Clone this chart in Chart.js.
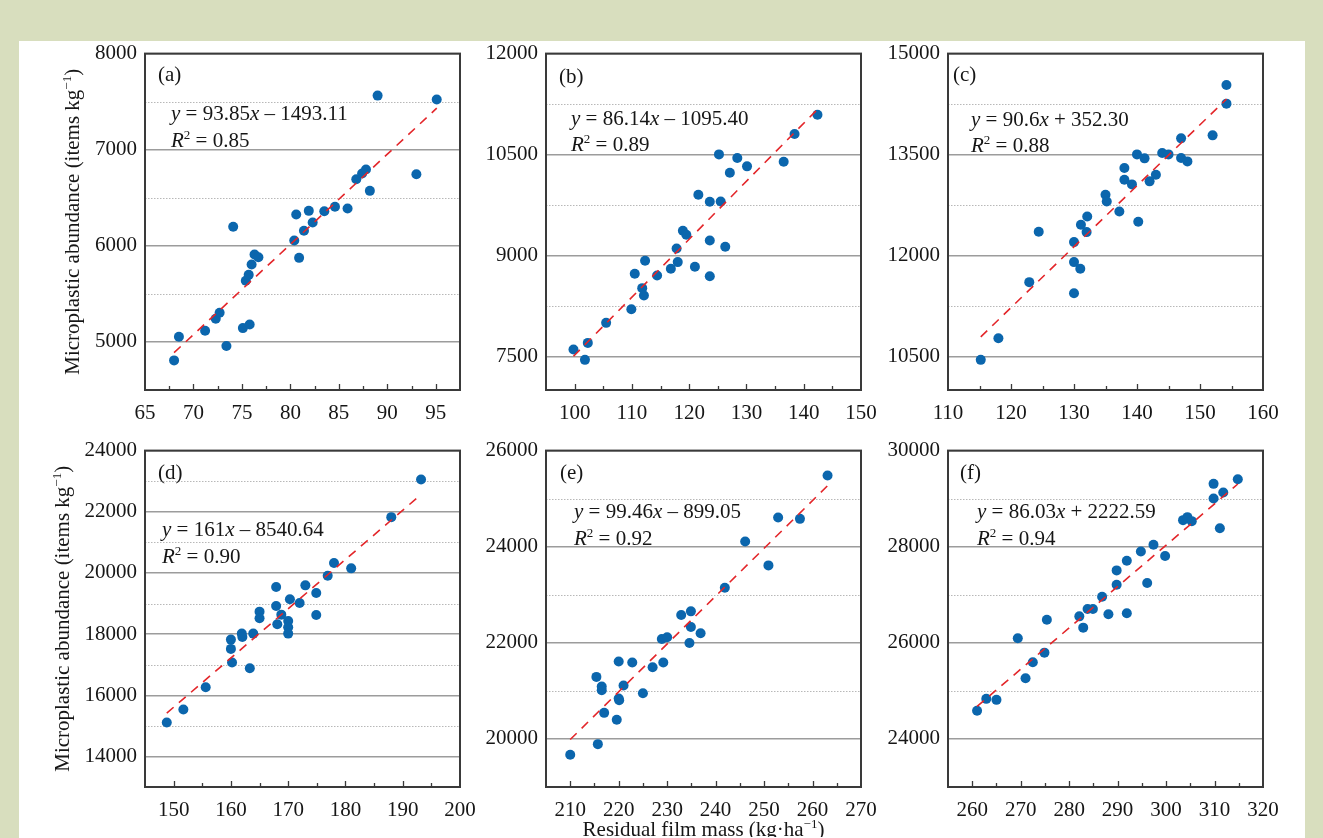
<!DOCTYPE html>
<html>
<head>
<meta charset="utf-8">
<script src="https://cdn.jsdelivr.net/npm/chart.js@4.4.1/dist/chart.umd.min.js"></script>
<style>
  html, body { margin: 0; padding: 0; background: #d8debe; width: 1323px; height: 838px; overflow: hidden; }
  #sheet { position: absolute; left: 19px; top: 41px; width: 1286px; height: 797px; background: #fff; }
  canvas { position: absolute; }
</style>
</head>
<body>
<div id="sheet"></div>
<canvas id="pa" width="435" height="407" style="left:45px;top:33px"></canvas>
<canvas id="pb" width="435" height="407" style="left:446px;top:33px"></canvas>
<canvas id="pc" width="435" height="407" style="left:848px;top:33px"></canvas>
<canvas id="pd" width="435" height="407" style="left:45px;top:430px"></canvas>
<canvas id="pe" width="435" height="407" style="left:446px;top:430px"></canvas>
<canvas id="pf" width="435" height="407" style="left:848px;top:430px"></canvas>
<script>
// residual film mass (kg/ha) and microplastic abundance (items/kg), one pair per panel
const massA = [68.0, 68.5, 71.2, 72.3, 72.7, 73.4, 74.1, 75.1, 75.8, 75.4, 75.7, 76.0, 76.3, 76.7, 80.4, 80.6, 80.9, 81.4, 81.9, 82.3, 83.5, 84.6, 85.9, 86.8, 87.4, 87.8, 88.2, 89.0, 93.0, 95.1];
const abundA = [4808, 5054, 5116, 5241, 5303, 4957, 6198, 5144, 5182, 5636, 5698, 5806, 5910, 5882, 6055, 6326, 5875, 6156, 6364, 6243, 6360, 6406, 6388, 6693, 6752, 6794, 6572, 7563, 6745, 7522];

const massB = [99.8, 101.8, 102.3, 105.5, 109.9, 110.5, 111.8, 112.1, 112.3, 114.4, 116.8, 118.0, 117.8, 118.9, 119.5, 121.0, 121.6, 123.6, 123.6, 123.6, 125.2, 125.5, 126.3, 127.1, 128.4, 130.1, 136.5, 138.4, 142.4];
const abundB = [7601, 7448, 7700, 7998, 8201, 8727, 8514, 8405, 8920, 8702, 8801, 8901, 9104, 9367, 9307, 8831, 9902, 9798, 9223, 8692, 10502, 9803, 9129, 10230, 10448, 10324, 10393, 10805, 11092];

const massC = [115.2, 118.0, 122.9, 124.4, 130.0, 130.0, 130.0, 131.0, 131.1, 132.0, 132.1, 135.0, 135.2, 137.2, 138.0, 138.0, 139.2, 140.0, 140.2, 141.2, 142.0, 143.0, 144.0, 145.0, 147.0, 147.0, 148.0, 152.0, 154.2, 154.2];
const abundC = [10448, 10770, 11603, 12352, 12198, 11901, 11439, 11801, 12456, 12347, 12580, 12902, 12803, 12654, 13299, 13126, 13056, 13502, 12501, 13443, 13101, 13200, 13522, 13502, 13740, 13448, 13398, 13785, 14256, 14534];

const massD = [148.8, 151.7, 155.6, 160.0, 160.0, 160.2, 161.9, 162.0, 163.3, 163.9, 165.0, 165.0, 167.9, 167.9, 168.1, 168.8, 170.0, 170.0, 170.0, 170.3, 172.0, 173.0, 174.9, 174.9, 176.9, 178.0, 181.0, 188.0, 193.2];
const abundD = [15111, 15535, 16264, 17820, 17516, 17070, 18016, 17907, 16885, 18016, 18734, 18516, 19539, 18919, 18321, 18636, 18429, 18223, 18016, 19137, 19017, 19594, 19343, 18625, 19909, 20323, 20149, 21824, 23053];

const massE = [210.0, 215.7, 215.4, 216.5, 216.5, 217.0, 219.6, 220.0, 220.0, 220.1, 221.0, 222.8, 225.0, 227.0, 228.9, 229.2, 230.0, 232.9, 234.6, 234.9, 234.9, 236.9, 241.9, 246.1, 250.9, 252.9, 257.4, 263.1];
const abundE = [19671, 19892, 21291, 21090, 21014, 20543, 20398, 21610, 20841, 20806, 21111, 21589, 20952, 21492, 22080, 21589, 22115, 22579, 21997, 22655, 22330, 22198, 23147, 24109, 23611, 24608, 24580, 25481];

const massF = [261.0, 262.9, 265.0, 269.4, 271.0, 272.5, 274.9, 275.4, 282.1, 282.9, 283.8, 284.9, 286.8, 288.1, 289.8, 289.8, 291.9, 291.9, 294.8, 296.1, 297.4, 299.8, 303.5, 304.4, 305.3, 309.8, 309.8, 311.1, 311.8, 314.8];
const abundF = [24585, 24834, 24813, 26094, 25263, 25596, 25796, 26482, 26551, 26316, 26704, 26704, 26960, 26593, 27507, 27209, 27708, 26614, 27902, 27244, 28040, 27805, 28553, 28615, 28532, 29308, 29003, 28386, 29127, 29404];

// fitted lines printed in each panel
const panelTags = ['(a)', '(b)', '(c)', '(d)', '(e)', '(f)'];
const fitSlope = [93.85, 86.14, 90.6, 161, 99.46, 86.03];
const fitIntercept = [-1493.11, -1095.40, 352.30, -8540.64, -899.05, 2222.59];
const fitLabel = ['y = 93.85x – 1493.11', 'y = 86.14x – 1095.40', 'y = 90.6x + 352.30', 'y = 161x – 8540.64', 'y = 99.46x – 899.05', 'y = 86.03x + 2222.59'];
const r2Label = ['0.85', '0.89', '0.88', '0.90', '0.92', '0.94'];

// axis ticks
const xTicksA = [65, 70, 75, 80, 85, 90, 95];
const xTicksB = [100, 110, 120, 130, 140, 150];
const xTicksC = [110, 120, 130, 140, 150, 160];
const xTicksD = [150, 160, 170, 180, 190, 200];
const xTicksE = [210, 220, 230, 240, 250, 260, 270];
const xTicksF = [260, 270, 280, 290, 300, 310, 320];
const yTicksA = [5000, 6000, 7000, 8000];
const yTicksB = [7500, 9000, 10500, 12000];
const yTicksC = [10500, 12000, 13500, 15000];
const yTicksD = [14000, 16000, 18000, 20000, 22000, 24000];
const yTicksE = [20000, 22000, 24000, 26000];
const yTicksF = [24000, 26000, 28000, 30000];
const xRanges = [[65, 97.5], [95, 150], [110, 160], [145, 200], [205, 270], [255, 320]];
const yRanges = [[4500, 8000], [7000, 12000], [10000, 15000], [13000, 24000], [19000, 26000], [23000, 30000]];

const masses = [massA, massB, massC, massD, massE, massF];
const abunds = [abundA, abundB, abundC, abundD, abundE, abundF];
const xTicks = [xTicksA, xTicksB, xTicksC, xTicksD, xTicksE, xTicksF];
const yTicks = [yTicksA, yTicksB, yTicksC, yTicksD, yTicksE, yTicksF];

// text placement, relative to the plot area
const tagPos = [[13, 27], [13, 29], [5, 27], [13, 28], [14, 28], [12, 28]];
const eqPos = [[26, 66], [25, 71], [23, 72], [17, 85], [28, 67], [29, 67]];
const r2Pos = [[26, 93], [25, 97], [23, 98], [17, 112], [28, 94], [29, 94]];

const FAM = "'Liberation Serif', 'DejaVu Serif', serif";
const INK = '#161616';

const mids = arr => arr.slice(1).map((v, k) => (v + arr[k]) / 2);

function rich(ctx, segs, x, y, size, center) {
  const fontOf = s => s === 'i' ? `italic ${size}px ${FAM}` : s === 's' ? `${Math.round(size * 0.62)}px ${FAM}` : `${size}px ${FAM}`;
  let w = 0;
  for (const [t, s] of segs) { ctx.font = fontOf(s); w += ctx.measureText(t).width; }
  let cx = center ? x - w / 2 : x;
  for (const [t, s] of segs) {
    ctx.font = fontOf(s);
    ctx.fillText(t, cx, s === 's' ? y - size * 0.38 : y);
    cx += ctx.measureText(t).width;
  }
}

function eqSegs(str) {
  const segs = [];
  for (const ch of str) {
    const st = (ch === 'x' || ch === 'y') ? 'i' : 'n';
    if (segs.length && segs[segs.length - 1][1] === st) segs[segs.length - 1][0] += ch;
    else segs.push([ch, st]);
  }
  return segs;
}

const deco = {
  id: 'deco',
  beforeDatasetsDraw(chart, args, o) {
    const { ctx, chartArea: a, scales: { y } } = chart;
    ctx.save();
    ctx.strokeStyle = '#b8b8b8';
    ctx.lineWidth = 1;
    ctx.setLineDash([1.5, 1.5]);
    for (const v of mids(yTicks[o.i])) {
      const py = Math.round(y.getPixelForValue(v)) + 0.5;
      ctx.beginPath(); ctx.moveTo(a.left, py); ctx.lineTo(a.right, py); ctx.stroke();
    }
    ctx.restore();
  },
  afterDraw(chart, args, o) {
    const { ctx, chartArea: a, scales: { x } } = chart;
    const i = o.i;
    ctx.save();
    // frame
    ctx.strokeStyle = '#3a3a3a';
    ctx.lineWidth = 2;
    ctx.strokeRect(a.left, a.top, a.right - a.left, a.bottom - a.top);
    // inward ticks on the x axis
    ctx.lineWidth = 1.3;
    const tick = (v, len) => {
      const px = Math.round(x.getPixelForValue(v)) + 0.5;
      if (px <= a.left + 1 || px >= a.right - 1) return;
      ctx.beginPath(); ctx.moveTo(px, a.bottom); ctx.lineTo(px, a.bottom - len); ctx.stroke();
    };
    xTicks[i].forEach(v => tick(v, 6));
    mids(xTicks[i]).forEach(v => tick(v, 4));
    // labels
    ctx.fillStyle = INK;
    ctx.textBaseline = 'alphabetic';
    ctx.textAlign = 'left';
    ctx.font = `21px ${FAM}`;
    ctx.fillText(panelTags[i], a.left + tagPos[i][0], a.top + tagPos[i][1]);
    rich(ctx, eqSegs(fitLabel[i]), a.left + eqPos[i][0], a.top + eqPos[i][1], 21, false);
    rich(ctx, [['R', 'i'], ['2', 's'], [' = ' + r2Label[i], 'n']], a.left + r2Pos[i][0], a.top + r2Pos[i][1], 21, false);
    // axis titles
    if (i === 0 || i === 3) {
      const cx = a.left - (i === 0 ? 73 : 83);
      const cy = (a.top + a.bottom) / 2;
      ctx.translate(cx, cy);
      ctx.rotate(-Math.PI / 2);
      rich(ctx, [['Microplastic abundance (items kg', 'n'], ['−1', 's'], [')', 'n']], 0, 7, 21, true);
      ctx.setTransform(1, 0, 0, 1, 0, 0);
    }
    if (i === 4) {
      rich(ctx, [['Residual film mass (kg·ha', 'n'], ['−1', 's'], [')', 'n']], (a.left + a.right) / 2, a.bottom + 49, 21, true);
    }
    ctx.restore();
  }
};

function makePanel(i, id) {
  const pts = masses[i].map((m, k) => ({ x: m, y: abunds[i][k] }));
  const x0 = Math.min(...masses[i]), x1 = Math.max(...masses[i]);
  const fit = [x0, x1].map(v => ({ x: v, y: fitSlope[i] * v + fitIntercept[i] }));
  const tickFont = { family: FAM, size: 21 };
  new Chart(document.getElementById(id), {
    type: 'scatter',
    data: {
      datasets: [
        { data: fit, showLine: true, borderColor: '#e3262a', borderWidth: 1.6, borderDash: [9, 7], pointRadius: 0, fill: false },
        { data: pts, backgroundColor: '#0b66ad', borderWidth: 0, pointRadius: 5, pointHoverRadius: 5 }
      ]
    },
    options: {
      responsive: false,
      animation: false,
      events: [],
      layout: { padding: { top: 20, right: 20, left: 0, bottom: 0 } },
      plugins: { legend: { display: false }, tooltip: { enabled: false }, deco: { i } },
      scales: {
        x: {
          type: 'linear', min: xRanges[i][0], max: xRanges[i][1],
          afterBuildTicks: s => { s.ticks = xTicks[i].map(v => ({ value: v })); },
          afterFit: s => { s.height = 50; },
          grid: { display: false },
          border: { display: false },
          ticks: { font: tickFont, color: INK, padding: 3, maxRotation: 0, autoSkip: false, callback: v => String(v) }
        },
        y: {
          type: 'linear', min: yRanges[i][0], max: yRanges[i][1],
          afterBuildTicks: s => { s.ticks = yTicks[i].map(v => ({ value: v })); },
          afterFit: s => { s.width = 100; },
          grid: { color: '#9c9c9c', lineWidth: 1.5, drawTicks: false },
          border: { display: false },
          ticks: { font: tickFont, color: INK, padding: 8, autoSkip: false, callback: v => String(v) }
        }
      }
    },
    plugins: [deco]
  });
}

['pa', 'pb', 'pc', 'pd', 'pe', 'pf'].forEach((id, i) => makePanel(i, id));
</script>
</body>
</html>
